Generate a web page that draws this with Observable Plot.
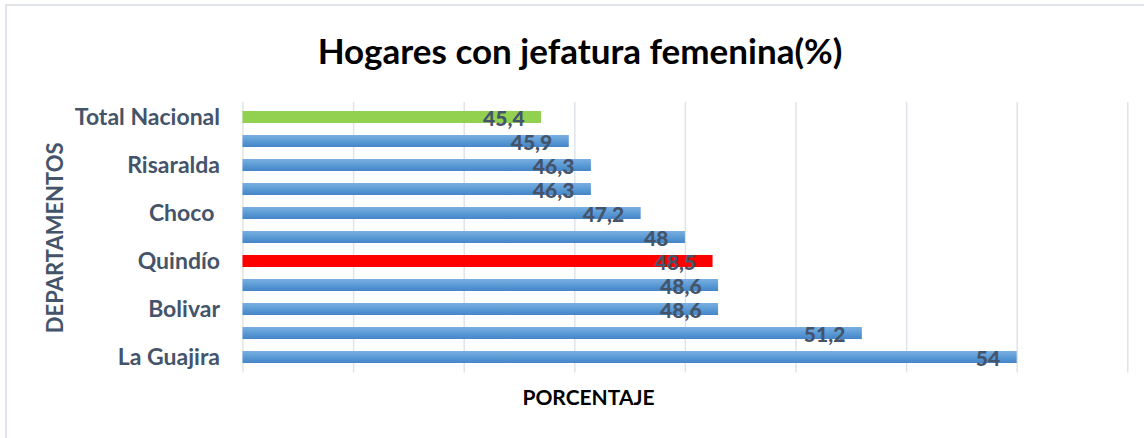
<!DOCTYPE html>
<html>
<head>
<meta charset="utf-8">
<script src="https://cdn.jsdelivr.net/npm/d3@7"></script>
<script src="https://cdn.jsdelivr.net/npm/@observablehq/plot@0.6"></script>
<style>
  html, body { margin: 0; padding: 0; background: #fff; }
  body { width: 1144px; height: 438px; position: relative; overflow: hidden; font-family: Lato, "Open Sans", sans-serif; }
  #frame { position: absolute; left: 5px; top: 4px; width: 1139px; height: 434px;
           border-left: 2px solid #e1e4eb; border-top: 2px solid #e1e4eb; box-sizing: border-box; }
  #title { position: absolute; left: 580px; top: 50px; transform: translate(-50%, -50%);
           font-weight: 700; font-size: 35px; color: #000; white-space: nowrap; }
  #chart { position: absolute; left: 0; top: 95px; }
</style>
</head>
<body>
<div id="frame"></div>
<div id="title">Hogares con jefatura femenina(%)</div>
<div id="chart"></div>
<script>
// Data
const tickLabels = ["Total Nacional", "", "Risaralda", "", "Choco ", "", "Quindío", "", "Bolivar", "", "La Guajira"];
const values = [45.4, 45.9, 46.3, 46.3, 47.2, 48, 48.5, 48.6, 48.6, 51.2, 54];
const xTicks = [40, 42, 44, 46, 48, 50, 52, 54, 56];
const totalLabel = "Total Nacional";
const focusLabel = "Quindío";

const rows = values.map((v, i) => ({i, label: tickLabels[i], value: v}));
const fillOf = d => d.label === totalLabel ? "#92d050" : d.label === focusLabel ? "#ff0000" : "url(#blueGrad)";

const textColor = "#44546a";

const plot = Plot.plot({
  width: 1144,
  height: 343,
  marginLeft: 242.5,
  marginRight: 16.7,
  marginTop: 7,
  marginBottom: 65.4,
  style: {fontFamily: "Lato, 'Open Sans', sans-serif", background: "transparent", overflow: "visible"},
  x: {domain: [40, 56], axis: null},
  y: {domain: d3.range(values.length), paddingInner: 0.48, paddingOuter: 0.24, axis: null},
  color: {type: "identity"},
  marks: [
    Plot.ruleX(xTicks, {stroke: "#dde1e9", strokeWidth: 1.4}),
    Plot.barX(rows, {y: "i", x1: 40, x2: "value", fill: d => fillOf(d)}),
    Plot.axisY({
      tickSize: 0, tickPadding: 23, label: null,
      tickFormat: i => tickLabels[i],
      fontSize: 23, fontWeight: "bold", fill: textColor
    }),
    Plot.text(rows, {
      y: "i", x: "value", text: d => String(d.value).replace(".", ","),
      textAnchor: "end", dx: -17, dy: 1.5,
      fontSize: 21, fontWeight: "900", fill: textColor
    }),
    Plot.text(["PORCENTAJE"], {
      frameAnchor: "bottom-left", dx: 345.5, dy: 25, text: d => d,
      textAnchor: "middle", lineAnchor: "middle",
      fontSize: 21, fontWeight: "bold", fill: "#000"
    }),
    Plot.text(["DEPARTAMENTOS"], {
      frameAnchor: "left", dx: -187.5, text: d => d, rotate: -90,
      textAnchor: "middle", lineAnchor: "middle",
      fontSize: 22, fontWeight: "bold", fill: textColor
    })
  ]
});

const svg = d3.select(plot);
const defs = svg.insert("defs", ":first-child");
const grad = defs.append("linearGradient").attr("id", "blueGrad")
  .attr("x1", 0).attr("y1", 0).attr("x2", 0).attr("y2", 1);
grad.append("stop").attr("offset", "0%").attr("stop-color", "#7aaee1");
grad.append("stop").attr("offset", "50%").attr("stop-color", "#5b9bd5");
grad.append("stop").attr("offset", "100%").attr("stop-color", "#4684c8");

document.getElementById("chart").appendChild(plot);
</script>
</body>
</html>
